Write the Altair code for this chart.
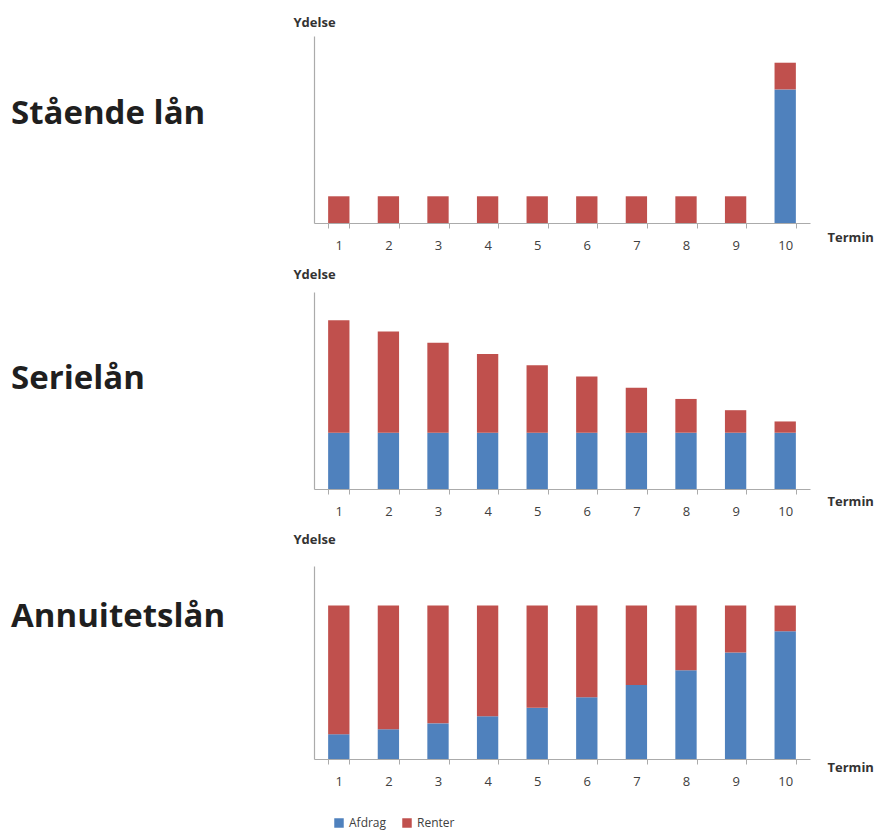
import altair as alt
import pandas as pd

# Payment schedule of a 100 kr loan over 10 terms at 20 % interest
terms = list(range(1, 11))
parts = ["Afdrag", "Renter"]
part_colors = ["#4F81BD", "#C0504D"]

staaende_afdrag = [0, 0, 0, 0, 0, 0, 0, 0, 0, 100]
staaende_renter = [20, 20, 20, 20, 20, 20, 20, 20, 20, 20]

serie_afdrag = [10, 10, 10, 10, 10, 10, 10, 10, 10, 10]
serie_renter = [20, 18, 16, 14, 12, 10, 8, 6, 4, 2]

annuitet_afdrag = [3.85, 4.62, 5.54, 6.65, 7.98, 9.58, 11.49, 13.79, 16.55, 19.86]
annuitet_renter = [20.00, 19.23, 18.31, 17.20, 15.87, 14.27, 12.36, 10.06, 7.30, 3.99]

FONT = "Open Sans"
PLOT_W = 496


def long_table(afdrag, renter):
    rows = []
    for t, a, r in zip(terms, afdrag, renter):
        rows.append({"Termin": t, "Del": "Afdrag", "Orden": 0, "Ydelse": a})
        rows.append({"Termin": t, "Del": "Renter", "Orden": 1, "Ydelse": r})
    return pd.DataFrame(rows)


def panel(name, afdrag, renter, y_max, height, name_y, ydelse_y, termin_y):
    bars = alt.Chart(long_table(afdrag, renter)).mark_bar().encode(
        x=alt.X(
            "Termin:O",
            scale=alt.Scale(paddingInner=0.57, paddingOuter=0.285),
            axis=alt.Axis(
                title="Termin",
                titleX=PLOT_W + 17,
                titleY=termin_y,
                titleAlign="left",
                titleBaseline="alphabetic",
                titleAngle=0,
                labelAngle=0,
                tickBand="extent",
            ),
        ),
        y=alt.Y(
            "Ydelse:Q",
            stack="zero",
            scale=alt.Scale(domain=[0, y_max], nice=False, zero=True),
            axis=alt.Axis(
                title="Ydelse",
                labels=False,
                ticks=False,
                grid=False,
                titleAngle=0,
                titleAlign="center",
                titleBaseline="alphabetic",
                titleX=0,
                titleY=ydelse_y,
            ),
        ),
        color=alt.Color(
            "Del:N",
            scale=alt.Scale(domain=parts, range=part_colors),
            legend=alt.Legend(
                title=None,
                orient="none",
                direction="horizontal",
                legendX=19,
                legendY=781,
                symbolType="square",
                symbolSize=90,
                symbolStrokeWidth=0,
                labelFont=FONT,
                labelFontSize=12,
                labelColor="#404040",
                labelOffset=4,
                columnPadding=14,
                padding=0,
            ),
        ),
        order=alt.Order("Orden:Q"),
    )
    label = alt.Chart(pd.DataFrame({"navn": [name]})).mark_text(
        align="left",
        baseline="alphabetic",
        font=FONT,
        fontSize=33,
        fontWeight="bold",
        color="#1f1f1f",
    ).encode(x=alt.value(-303), y=alt.value(name_y), text="navn:N")
    return alt.layer(bars, label).properties(width=PLOT_W, height=height)


def gap(h):
    # empty band that separates two panels
    return (
        alt.Chart(pd.DataFrame({"g": [0]}))
        .mark_point(opacity=0)
        .encode(x=alt.value(0), y=alt.value(0))
        .properties(width=PLOT_W, height=h)
    )


p1 = panel("Stående lån", staaende_afdrag, staaende_renter, 140, 187, 88, -10, 18)
p2 = panel("Serielån", serie_afdrag, serie_renter, 35, 197, 97, -14, 16)
p3 = panel("Annuitetslån", annuitet_afdrag, annuitet_renter, 30, 193, 61, -23, 12)

chart = (
    alt.vconcat(p1, gap(69), p2, gap(77), p3, spacing=0, bounds="flush")
    .properties(padding={"left": 11, "top": 16, "right": 0, "bottom": 14}, background="white")
    .configure_view(stroke=None)
    .configure_axis(
        domainColor="#ababab",
        domainWidth=1.2,
        tickColor="#ababab",
        tickSize=5,
        labelFont=FONT,
        labelFontSize=13,
        labelColor="#404040",
        labelPadding=11,
        titleFont=FONT,
        titleFontSize=13,
        titleFontWeight="bold",
        titleColor="#333333",
    )
)

chart.save("out.html", embed_options={"renderer": "svg", "actions": False})
